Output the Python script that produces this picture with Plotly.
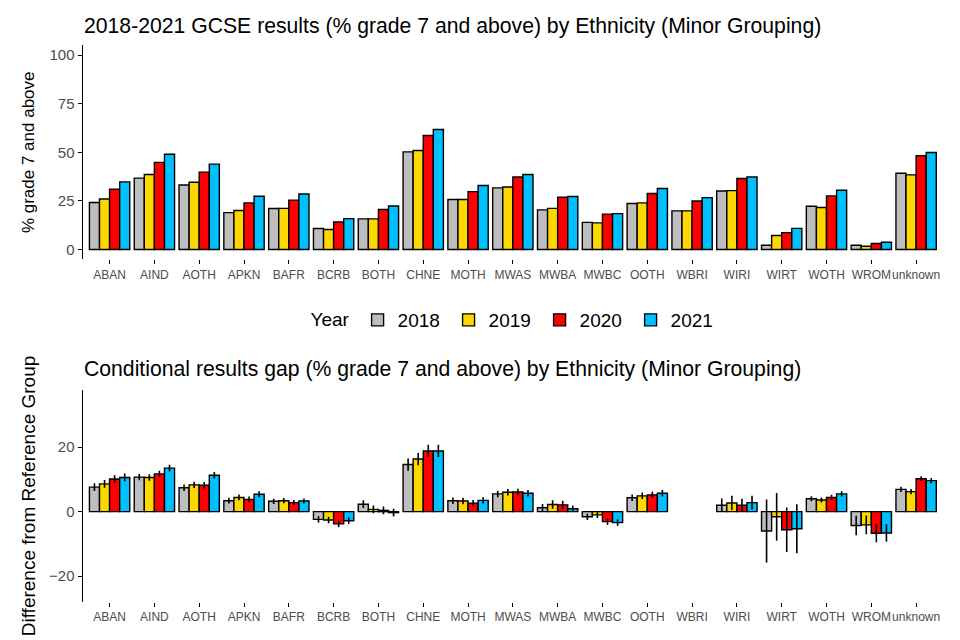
import plotly.graph_objects as go

categories = ["ABAN", "AIND", "AOTH", "APKN", "BAFR", "BCRB", "BOTH", "CHNE", "MOTH", "MWAS",
              "MWBA", "MWBC", "OOTH", "WBRI", "WIRI", "WIRT", "WOTH", "WROM", "unknown"]
years = ["2018", "2019", "2020", "2021"]
colors = ["#BEBEBE", "#FFD700", "#FF0000", "#00BFFF"]

# Top panel: % grade 7 and above
pct_2018 = [24.2, 36.7, 33.2, 19.0, 21.1, 10.8, 15.8, 50.2, 25.7, 31.7, 20.4, 14.0, 23.7, 19.9, 30.1, 2.2, 22.3, 2.2, 39.2]
pct_2019 = [26.0, 38.6, 34.6, 20.1, 21.2, 10.3, 15.8, 50.9, 25.7, 32.2, 21.2, 13.7, 24.0, 19.9, 30.3, 7.2, 21.6, 1.7, 38.4]
pct_2020 = [31.0, 44.8, 39.8, 24.0, 25.4, 14.2, 20.6, 58.6, 29.8, 37.3, 26.9, 18.2, 28.8, 25.0, 36.5, 8.7, 27.6, 3.1, 48.2]
pct_2021 = [34.8, 49.0, 43.9, 27.4, 28.6, 15.9, 22.4, 61.7, 32.9, 38.6, 27.3, 18.5, 31.4, 26.7, 37.3, 10.9, 30.5, 3.8, 49.9]

# Bottom panel: conditional gap (difference from reference group) and error half-widths
gap_2018 = [7.6, 10.7, 7.4, 3.4, 3.2, -2.4, 2.3, 14.6, 3.4, 5.5, 1.2, -1.6, 4.3, None, 2.0, -6.0, 4.0, -4.3, 6.9]
gap_2019 = [8.6, 10.6, 8.3, 4.4, 3.4, -2.6, 0.7, 16.3, 3.3, 6.0, 2.2, -1.0, 4.9, None, 2.7, -1.6, 3.6, -4.1, 6.2]
gap_2020 = [10.1, 11.7, 8.2, 3.8, 2.8, -3.8, 0.4, 18.8, 2.6, 6.1, 2.1, -3.1, 5.2, None, 2.0, -5.6, 4.4, -6.7, 10.2]
gap_2021 = [10.6, 13.5, 11.3, 5.4, 3.3, -2.8, -0.3, 18.8, 3.5, 5.7, 0.9, -3.4, 5.7, None, 2.8, -5.3, 5.5, -6.6, 9.6]

err_2018 = [1.2, 1.0, 1.0, 0.9, 0.8, 1.0, 1.2, 1.9, 1.0, 1.0, 1.2, 1.0, 1.0, None, 2.1, 9.8, 0.8, 3.0, 0.8]
err_2019 = [1.2, 1.0, 1.0, 0.9, 0.8, 1.0, 1.2, 1.9, 1.0, 1.0, 1.3, 1.0, 1.0, None, 2.2, 7.4, 0.8, 2.9, 0.8]
err_2020 = [1.2, 1.0, 1.0, 0.9, 0.8, 1.0, 1.2, 1.9, 1.0, 1.0, 1.3, 1.0, 1.0, None, 2.0, 6.9, 0.8, 2.8, 0.8]
err_2021 = [1.2, 1.0, 1.0, 0.9, 0.8, 1.0, 1.2, 1.9, 1.0, 1.0, 1.0, 1.0, 1.0, None, 2.1, 7.6, 0.8, 2.7, 0.8]

pct = [pct_2018, pct_2019, pct_2020, pct_2021]
gap = [gap_2018, gap_2019, gap_2020, gap_2021]
err = [err_2018, err_2019, err_2020, err_2021]

FONT = "Liberation Sans, Arial, sans-serif"
W, H = 960, 640

def px_x(p):
    return p / W

def px_y(p):
    return 1 - p / H

fig = go.Figure()
for i, yr in enumerate(years):
    fig.add_trace(go.Bar(
        x=categories, y=pct[i], name=yr, marker=dict(color=colors[i], line=dict(color="black", width=1.4)),
        xaxis="x", yaxis="y", legendgroup=yr, showlegend=True))
for i, yr in enumerate(years):
    fig.add_trace(go.Bar(
        x=categories, y=gap[i], name=yr, marker=dict(color=colors[i], line=dict(color="black", width=1.4)),
        error_y=dict(type="data", array=err[i], visible=True, color="black", thickness=1.6, width=0),
        xaxis="x2", yaxis="y2", legendgroup=yr, showlegend=False))

x_dom = [px_x(82.7), px_x(943)]
tickfont_x = dict(family=FONT, size=12, color="#4D4D4D")
tickfont_y = dict(family=FONT, size=15, color="#4D4D4D")

fig.update_layout(
    width=W, height=H,
    margin=dict(l=0, r=0, t=0, b=0, autoexpand=False),
    paper_bgcolor="white", plot_bgcolor="white",
    barmode="group", bargap=0.1, bargroupgap=0,
    font=dict(family=FONT, color="black"),
    xaxis=dict(domain=x_dom, anchor="y", range=[-0.6, 18.6], showgrid=False, showline=False,
               ticks="outside", ticklen=4, tickwidth=1.2, tickcolor="black", tickfont=tickfont_x,
               tickangle=0, zeroline=False, automargin=False),
    yaxis=dict(domain=[px_y(259.3), px_y(45.3)], anchor="x", range=[-5, 105], showgrid=False,
               showline=True, linecolor="black", linewidth=1.3, zeroline=False,
               tickvals=[0, 25, 50, 75, 100], ticks="outside", ticklen=4, tickwidth=1.2,
               tickcolor="black", tickfont=tickfont_y, automargin=False,
               title=dict(text="% grade 7 and above", font=dict(family=FONT, size=17, color="black"), standoff=10)),
    xaxis2=dict(domain=x_dom, anchor="y2", range=[-0.6, 18.6], showgrid=False, showline=False,
                ticks="outside", ticklen=4, tickwidth=1.2, tickcolor="black", tickfont=tickfont_x,
                tickangle=0, zeroline=False, automargin=False),
    yaxis2=dict(domain=[px_y(602), px_y(390)], anchor="x2", range=[-28, 37.7], showgrid=False,
                showline=True, linecolor="black", linewidth=1.3, zeroline=False,
                tickvals=[-20, 0, 20], ticks="outside", ticklen=4, tickwidth=1.2,
                tickcolor="black", tickfont=tickfont_y, automargin=False,
                title=dict(text="Difference from Reference Group", font=dict(family=FONT, size=19, color="black"), standoff=8)),
    legend=dict(orientation="h", x=0.537, xanchor="center", y=px_y(320), yanchor="middle",
                title=dict(text="Year", side="left", font=dict(family=FONT, size=19, color="black")),
                font=dict(family=FONT, size=19, color="black"), traceorder="normal",
                entrywidth=46, bgcolor="rgba(0,0,0,0)"),
    annotations=[
        dict(text="2018-2021 GCSE results (% grade 7 and above) by Ethnicity (Minor Grouping)",
             xref="paper", yref="paper", x=px_x(82), y=px_y(26), xanchor="left", yanchor="middle",
             showarrow=False, font=dict(family=FONT, size=21.2, color="black")),
        dict(text="Conditional results gap (% grade 7 and above) by Ethnicity (Minor Grouping)",
             xref="paper", yref="paper", x=px_x(82), y=px_y(369), xanchor="left", yanchor="middle",
             showarrow=False, font=dict(family=FONT, size=21.2, color="black")),
    ],
)

fig.write_html("out.html", config={"displayModeBar": False},
               post_script="document.body.style.margin='0px';")
